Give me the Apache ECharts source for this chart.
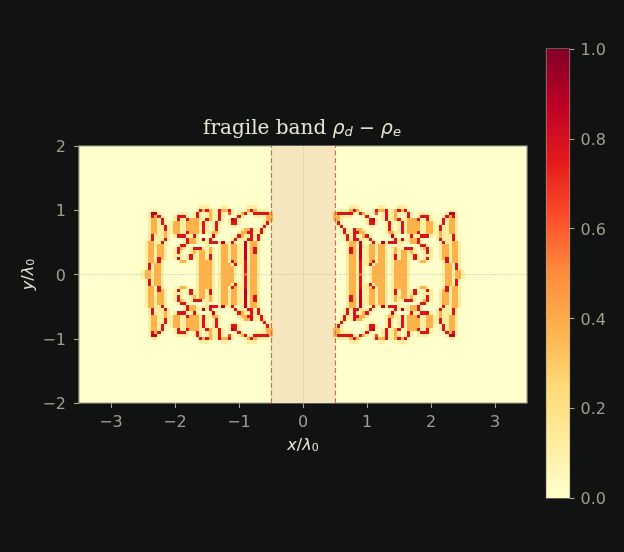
<!DOCTYPE html>
<html><head><meta charset="utf-8">
<style>html,body{margin:0;padding:0;background:#101312}#c{width:624px;height:552px}</style>
<script src="https://cdn.jsdelivr.net/npm/echarts@6/dist/echarts.min.js"></script>
</head><body><div id="c"></div>
<script>
// Upper-left quadrant of the map: "column:levels", rows from the top, last row is y = 0.
const quadrantRows = [
"18:... 25:.. 33:...",
"3:.. 17:.RoRo. 23:.RooR. 32:.oRo....",
"2:.DD. 11:.... 16:.R. 20:.o. 23:.R. 27:r. 30:.oR..RRRRRo",
"2:.RoR. 10:.RRR. 16:.R. 20:.o. 23:.R. 29:.R. 35:.... 39:oo",
"2:.oo.R. 10:.R..Rooo. 19:.Ro. 23:.R. 27:.DR. 38:.oo",
"2:.oo.R. 9:.oo..oooo. 18:.R. 22:.R. 27:.RR. 38:.R.",
"2:.oo..R. 9:.oo..oooo. 18:.R. 22:.R. 28:.. 37:.R.",
"2:.oo..R. 9:.oo..oooo. 18:.R. 22:.R. 31:.ooR. 36:.R.",
"2:.oo..o. 9:.oo..Rooo. 18:.R. 21:.oo. 30:.ooRR. 36:.R.",
"2:.R...o. 10:.RRR.. 15:.R. 21:.D. 29:.Ro..R.R.",
"2:.R...R. 13:.Roo. 18:.D.R. 28:.R.. 32:.RR.R.",
"1:.oo..R. 13:.Roo. 19:..RRR.D. 27:.R. 31:.D.oo.",
"1:.oo.oo. 11:.RR. 20:. 24:.oo.oo. 31:.D.oo.",
"1:.oo.oo. 10:.Ro. 15:.RRR. 20:.o. 24:.oo.oo. 31:.D.oR.",
"1:.oo.oo. 10:.R. 15:.o.oo.o. 24:.oo.oo. 31:.D.oR.",
"1:.oo.oo. 10:... 14:.R. 17:.oo.R. 24:.oo.oo. 31:.D.oo.",
"1:.oo.Ro. 10:.R. 14:.R. 17:.oo.R. 24:.oo.oo. 31:.D.oo.",
"1:.oo.R. 11:.oo. 17:.oooo. 24:.oo.Ro. 31:.R.oo.",
"1:.R.oo. 17:.oooo. 24:.ooo.R. 31:.R.oo.",
"1:.R.oo. 17:.oooo. 24:.oooo. 31:.R.oo.",
"0:.oo.oo. 17:.oooo. 24:.oooo. 31:.R.oo.",
"0:.oo.oo. 17:.oooo. 24:.oooo. 31:.r.oo."
];
const levelValues = { '.': 0.125, o: 0.375, r: 0.625, R: 0.78, D: 0.875 };
const cellSize = 0.05;
const leftEdge = -2.5;
const centreRow = 21;
const cmap = ['#ffffcc','#ffeda0','#fed976','#feb24c','#fd8d3c','#fc4e2a','#e31a1c','#bd0026','#800026'];
const xTicks = [-3,-2,-1,0,1,2,3];
const yTicks = [-2,-1,0,1,2];
const bandEdges = [-0.5,0.5];
const ink = '#a09d8d', frame='#a8a594', textInk = '#e6e4d6';

const cells = [];
quadrantRows.forEach((row, r) => {
  row.split(' ').filter(Boolean).forEach(tok => {
    const [c, s] = tok.split(':');
    [...s].forEach((ch, i) => {
      const x = leftEdge + (Number(c) + i) * cellSize;
      const y = (centreRow - r) * cellSize;
      const v = levelValues[ch];
      cells.push([x, y, v], [-x, y, v]);
      if (r < centreRow) cells.push([x, -y, v], [-x, -y, v]);
    });
  });
});
const minus = v => String(v).replace('-', '\u2212');
const richName = {
  m: { fontFamily: 'DejaVu Sans', fontStyle: 'italic', fontWeight: 'normal', fontSize: 16, color: textInk },
  n: { fontFamily: 'DejaVu Sans', fontWeight: 'normal', fontSize: 16, color: textInk },
  s: { fontFamily: 'DejaVu Sans', fontWeight: 'normal', fontSize: 11, color: textInk, verticalAlign: 'bottom', padding: [5, 0, 0, 0] }
};
const chart = echarts.init(document.getElementById('c'));
chart.setOption({
  animation: false,
  backgroundColor: '#101312',
  title: {
    left: 297, top: 114, textAlign: 'center',
    text: '{t|fragile band }{m|\u03c1}{s|d}{o| \u2212 }{m|\u03c1}{s|e}',
    textStyle: { fontWeight: 'normal', rich: {
      t: { fontFamily: 'DejaVu Serif', fontWeight: 'normal', fontSize: 20, color: textInk },
      o: { fontFamily: 'DejaVu Sans', fontWeight: 'normal', fontSize: 19, color: textInk },
      m: { fontFamily: 'DejaVu Sans', fontStyle: 'italic', fontWeight: 'normal', fontSize: 19, color: textInk },
      s: { fontFamily: 'DejaVu Sans', fontStyle: 'italic', fontWeight: 'normal', fontSize: 13, color: textInk, verticalAlign: 'bottom', padding: [6, 0, 0, 0] }
    } }
  },
  grid: [
    { left: 79, top: 146, width: 448, height: 257, show: true, backgroundColor: cmap[0], borderColor: frame, borderWidth: 1.2 },
    { left: 546.5, top: 49, width: 23, height: 449, show: true, borderColor: frame, borderWidth: 1.2 }
  ],
  xAxis: [
    { gridIndex: 0, type: 'value', min: -3.5, max: 3.5, splitLine: { show: false },
      axisLine: { show: false, onZero: false },
      axisTick: { show: true, length: 5, customValues: xTicks, lineStyle: { color: frame, width: 1.1 } },
      axisLabel: { customValues: xTicks, color: ink, fontFamily: 'DejaVu Sans', fontSize: 16, margin: 12, formatter: minus },
      name: '{m|x}{n|/}{m|\u03bb}{s|0}', nameLocation: 'middle', nameGap: 35, nameMoveOverlap: false,
      nameTextStyle: { rich: richName } },
    { gridIndex: 1, type: 'value', min: 0, max: 1, show: false }
  ],
  yAxis: [
    { gridIndex: 0, type: 'value', min: -2, max: 2, splitLine: { show: false },
      axisLine: { show: false, onZero: false },
      axisTick: { show: true, length: 5, customValues: yTicks, lineStyle: { color: frame, width: 1.1 } },
      axisLabel: { customValues: yTicks, color: ink, fontFamily: 'DejaVu Sans', fontSize: 16, margin: 13, verticalAlign: 'top', lineHeight: 4, formatter: minus },
      name: '{m|y}{n|/}{m|\u03bb}{s|0}', nameLocation: 'middle', nameGap: 42, nameRotate: 90, nameMoveOverlap: false,
      nameTextStyle: { rich: richName } },
    { gridIndex: 1, type: 'value', min: 0, max: 1, interval: 0.2, position: 'right', splitLine: { show: false },
      axisLine: { show: false, onZero: false },
      axisTick: { show: true, length: 5, lineStyle: { color: frame, width: 1.1 } },
      axisLabel: { color: ink, fontFamily: 'DejaVu Sans', fontSize: 16, margin: 11, verticalAlign: 'top', lineHeight: 4, formatter: v => v.toFixed(1) } }
  ],
  visualMap: { show: false, seriesIndex: 0, dimension: 2, min: 0, max: 1, inRange: { color: cmap } },
  series: [
    { type: 'custom', xAxisIndex: 0, yAxisIndex: 0, coordinateSystem: 'cartesian2d', z: 2, silent: true,
      encode: { x: 0, y: 1 }, data: cells,
      renderItem(params, api) {
        const a = api.coord([api.value(0) - cellSize / 2, api.value(1) + cellSize / 2]);
        const b = api.coord([api.value(0) + cellSize / 2, api.value(1) - cellSize / 2]);
        const x = Math.round(a[0]), y = Math.round(a[1]);
        return { type: 'rect', shape: { x, y, width: Math.round(b[0]) - x, height: Math.round(b[1]) - y },
                 style: { fill: api.visual('color') } };
      } },
    { type: 'line', xAxisIndex: 0, yAxisIndex: 0, data: [], z: 3, silent: true,
      markArea: { silent: true, itemStyle: { color: '#f5e6bd' }, data: [[{ xAxis: bandEdges[0] }, { xAxis: bandEdges[1] }]] },
      markLine: { silent: true, symbol: 'none', label: { show: false }, animation: false, data: [
        { xAxis: bandEdges[0], lineStyle: { color: '#cb6d5c', type: [5, 2.5], width: 1.2 } },
        { xAxis: bandEdges[1], lineStyle: { color: '#cb6d5c', type: [5, 2.5], width: 1.2 } },
        { xAxis: 0, lineStyle: { color: '#b4b19f', type: [1, 1.6], width: 0.8 } },
        { yAxis: 0, lineStyle: { color: '#b4b19f', type: [1, 1.6], width: 0.8 } }
      ] } },
    { type: 'custom', xAxisIndex: 1, yAxisIndex: 1, coordinateSystem: 'cartesian2d', silent: true,
      data: [[0, 0, 1, 1]], encode: { x: [0, 2], y: [1, 3] },
      renderItem(params, api) {
        const a = api.coord([api.value(0), api.value(3)]);
        const b = api.coord([api.value(2), api.value(1)]);
        return { type: 'rect', shape: { x: a[0], y: a[1], width: b[0] - a[0], height: b[1] - a[1] },
          style: { fill: new echarts.graphic.LinearGradient(0, 1, 0, 0, cmap.map((color, i) => ({ offset: i / (cmap.length - 1), color }))) } };
      } }
  ]
});
</script></body></html>
